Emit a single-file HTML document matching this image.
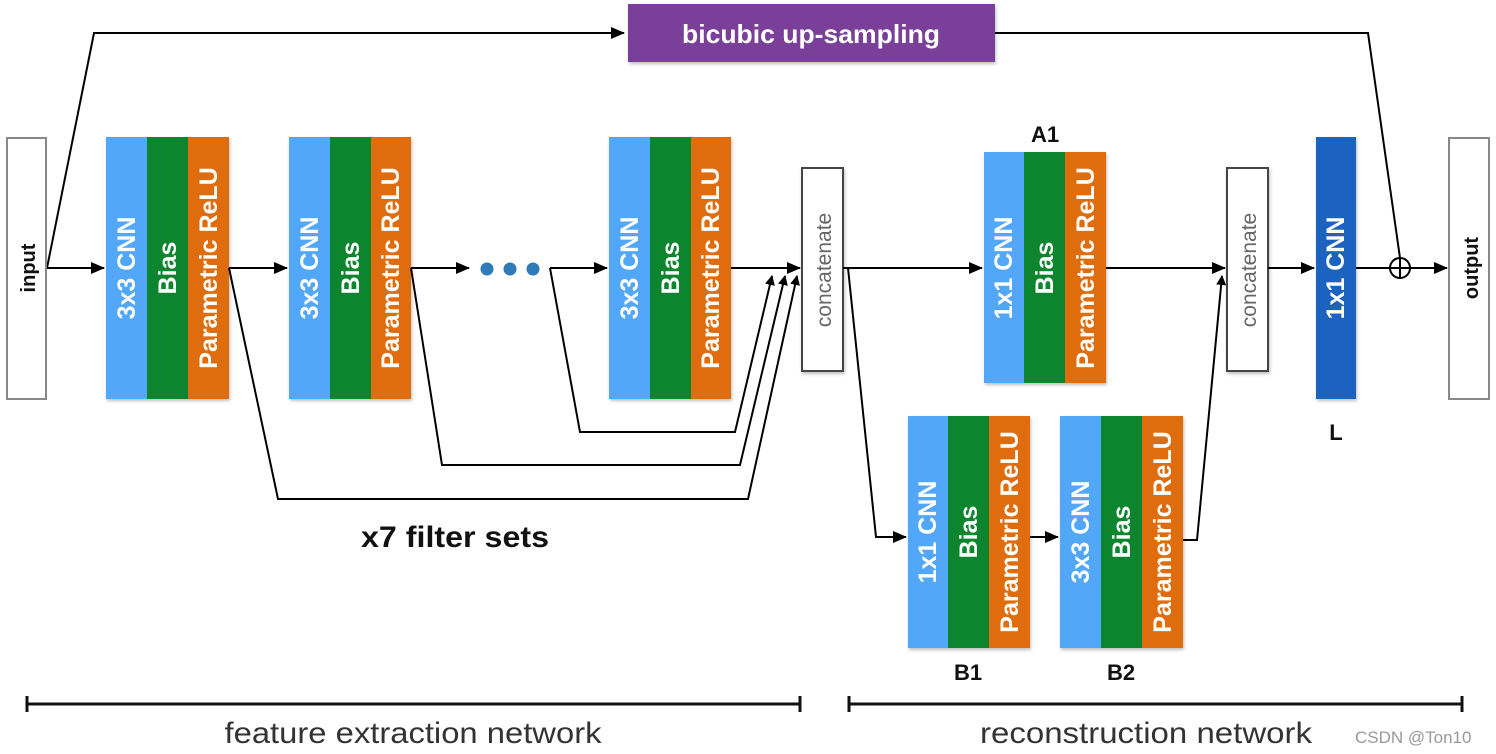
<!DOCTYPE html>
<html><head><meta charset="utf-8"><style>
html,body{margin:0;padding:0;background:#fff;}
svg{display:block;}
.bt{font-family:"Liberation Sans",sans-serif;font-weight:bold;font-size:25px;fill:#fff;}
.ln{stroke:#000;stroke-width:2;fill:none;}
</style></head><body>
<svg width="1496" height="754" viewBox="0 0 1496 754" xmlns="http://www.w3.org/2000/svg">
<defs>
<marker id="ar" markerWidth="10" markerHeight="10" refX="9" refY="5" orient="auto" markerUnits="userSpaceOnUse" viewBox="0 0 10 10">
<path d="M0,0 L10,5 L0,10 z" fill="#000"/></marker>
<marker id="as" markerWidth="14" markerHeight="14" refX="13" refY="7" orient="auto" markerUnits="userSpaceOnUse" viewBox="0 0 14 14">
<path d="M0,1 L14,7 L0,13 z" fill="#000"/></marker>
<filter id="sh" x="-10%" y="-10%" width="130%" height="130%"><feDropShadow dx="1" dy="2" stdDeviation="1.5" flood-color="#000" flood-opacity="0.25"/></filter>
</defs>

<rect x="628" y="4" width="367" height="58" fill="#7a3f99" filter="url(#sh)"/>
<text x="811" y="43" text-anchor="middle" font-family="Liberation Sans,sans-serif" font-weight="bold" font-size="26" fill="#fff" textLength="258" lengthAdjust="spacingAndGlyphs">bicubic up-sampling</text>
<path class="ln" d="M47,268 L94,33 L624,33" marker-end="url(#as)"/>
<path class="ln" d="M995,33 L1368,33 L1400,258"/>

<rect x="7" y="138" width="39" height="261" fill="#fff" stroke="#888" stroke-width="2"/>
<text transform="translate(35,268) rotate(-90)" text-anchor="middle" font-family="Liberation Sans,sans-serif" font-weight="bold" font-size="20" fill="#111">input</text>
<rect x="1449" y="138" width="40" height="261" fill="#fff" stroke="#888" stroke-width="2"/>
<text transform="translate(1478,268) rotate(-90)" text-anchor="middle" font-family="Liberation Sans,sans-serif" font-weight="bold" font-size="20" fill="#111">output</text>

<g filter="url(#sh)">
<rect x="106" y="137" width="41" height="262" fill="#52a7f8"/><rect x="147" y="137" width="41" height="262" fill="#0a842e"/><rect x="188" y="137" width="41" height="262" fill="#e06d10"/>
<rect x="289" y="137" width="41" height="262" fill="#52a7f8"/><rect x="330" y="137" width="41" height="262" fill="#0a842e"/><rect x="371" y="137" width="40" height="262" fill="#e06d10"/>
<rect x="609" y="137" width="41" height="262" fill="#52a7f8"/><rect x="650" y="137" width="41" height="262" fill="#0a842e"/><rect x="691" y="137" width="40" height="262" fill="#e06d10"/>
<rect x="984" y="152" width="40" height="231" fill="#52a7f8"/><rect x="1024" y="152" width="41" height="231" fill="#0a842e"/><rect x="1065" y="152" width="41" height="231" fill="#e06d10"/>
<rect x="908" y="416" width="40" height="232" fill="#52a7f8"/><rect x="948" y="416" width="41" height="232" fill="#0a842e"/><rect x="989" y="416" width="41" height="232" fill="#e06d10"/>
<rect x="1060" y="416" width="41" height="232" fill="#52a7f8"/><rect x="1101" y="416" width="41" height="232" fill="#0a842e"/><rect x="1142" y="416" width="41" height="232" fill="#e06d10"/>
<rect x="1316" y="137" width="40" height="262" fill="#1a64c0"/>
</g>

<text class="bt" transform="translate(135,268) rotate(-90)" text-anchor="middle">3x3 CNN</text>
<text class="bt" transform="translate(176,268) rotate(-90)" text-anchor="middle">Bias</text>
<text class="bt" transform="translate(217,268) rotate(-90)" text-anchor="middle">Parametric ReLU</text>
<text class="bt" transform="translate(318,268) rotate(-90)" text-anchor="middle">3x3 CNN</text>
<text class="bt" transform="translate(359,268) rotate(-90)" text-anchor="middle">Bias</text>
<text class="bt" transform="translate(399,268) rotate(-90)" text-anchor="middle">Parametric ReLU</text>
<text class="bt" transform="translate(638,268) rotate(-90)" text-anchor="middle">3x3 CNN</text>
<text class="bt" transform="translate(679,268) rotate(-90)" text-anchor="middle">Bias</text>
<text class="bt" transform="translate(719,268) rotate(-90)" text-anchor="middle">Parametric ReLU</text>
<text class="bt" transform="translate(1012,268) rotate(-90)" text-anchor="middle">1x1 CNN</text>
<text class="bt" transform="translate(1053,268) rotate(-90)" text-anchor="middle">Bias</text>
<text class="bt" transform="translate(1094,268) rotate(-90)" text-anchor="middle">Parametric ReLU</text>
<text class="bt" transform="translate(936,532) rotate(-90)" text-anchor="middle">1x1 CNN</text>
<text class="bt" transform="translate(977,532) rotate(-90)" text-anchor="middle">Bias</text>
<text class="bt" transform="translate(1018,532) rotate(-90)" text-anchor="middle">Parametric ReLU</text>
<text class="bt" transform="translate(1089,532) rotate(-90)" text-anchor="middle">3x3 CNN</text>
<text class="bt" transform="translate(1130,532) rotate(-90)" text-anchor="middle">Bias</text>
<text class="bt" transform="translate(1171,532) rotate(-90)" text-anchor="middle">Parametric ReLU</text>
<text class="bt" transform="translate(1344,268) rotate(-90)" text-anchor="middle">1x1 CNN</text>

<rect x="802" y="168" width="41" height="203" fill="#fff" stroke="#444" stroke-width="2" filter="url(#sh)"/>
<text transform="translate(831,270) rotate(-90)" text-anchor="middle" font-family="Liberation Sans,sans-serif" font-size="21" fill="#666">concatenate</text>
<rect x="1227" y="168" width="41" height="203" fill="#fff" stroke="#444" stroke-width="2" filter="url(#sh)"/>
<text transform="translate(1256,270) rotate(-90)" text-anchor="middle" font-family="Liberation Sans,sans-serif" font-size="21" fill="#666">concatenate</text>

<g font-family="Liberation Sans,sans-serif" font-weight="bold" font-size="22" fill="#111" text-anchor="middle">
<text x="1045" y="142">A1</text>
<text x="1336" y="440">L</text>
<text x="968" y="680">B1</text>
<text x="1121" y="680">B2</text>
</g>
<text x="455" y="547" text-anchor="middle" font-family="Liberation Sans,sans-serif" font-weight="bold" font-size="30" fill="#111" textLength="188" lengthAdjust="spacingAndGlyphs">x7 filter sets</text>

<circle cx="487" cy="269" r="6.5" fill="#2f7ab8"/>
<circle cx="510" cy="269" r="6.5" fill="#2f7ab8"/>
<circle cx="533" cy="269" r="6.5" fill="#2f7ab8"/>

<path class="ln" d="M47,268 L104,268" marker-end="url(#as)"/>
<path class="ln" d="M229,268 L287,268" marker-end="url(#as)"/>
<path class="ln" d="M411,268 L469,268" marker-end="url(#as)"/>
<path class="ln" d="M550,268 L607,268" marker-end="url(#as)"/>
<path class="ln" d="M731,268 L800,268" marker-end="url(#as)"/>
<path class="ln" d="M229,268 L278,499 L748,499 L797,276" marker-end="url(#ar)"/>
<path class="ln" d="M411,268 L442,465 L740,465 L785,276" marker-end="url(#ar)"/>
<path class="ln" d="M550,268 L580,432 L735,432 L772,276" marker-end="url(#ar)"/>
<path class="ln" d="M843,268 L982,268" marker-end="url(#as)"/>
<path class="ln" d="M848,268 L876,537 L906,537" marker-end="url(#as)"/>
<path class="ln" d="M1030,537 L1058,537" marker-end="url(#as)"/>
<path class="ln" d="M1183,540 L1197,540 L1222,276" marker-end="url(#ar)"/>
<path class="ln" d="M1106,268 L1225,268" marker-end="url(#as)"/>
<path class="ln" d="M1268,268 L1314,268" marker-end="url(#as)"/>
<path class="ln" d="M1356,268 L1390,268"/>
<circle cx="1400" cy="268" r="10" fill="none" stroke="#000" stroke-width="2"/>
<path class="ln" d="M1390,268 L1410,268 M1400,258 L1400,278"/>
<path class="ln" d="M1410,268 L1447,268" marker-end="url(#as)"/>

<path d="M27,704 L800,704 M27,696 L27,712 M800,696 L800,712" stroke="#111" stroke-width="3" fill="none"/>
<path d="M849,704 L1462,704 M849,696 L849,712 M1462,696 L1462,712" stroke="#111" stroke-width="3" fill="none"/>
<text x="413" y="743" text-anchor="middle" font-family="Liberation Sans,sans-serif" font-size="30" fill="#333" textLength="377" lengthAdjust="spacingAndGlyphs">feature extraction network</text>
<text x="1146" y="743" text-anchor="middle" font-family="Liberation Sans,sans-serif" font-size="30" fill="#333" textLength="332" lengthAdjust="spacingAndGlyphs">reconstruction network</text>
<text x="1355" y="743" font-family="Liberation Sans,sans-serif" font-size="17" fill="#999">CSDN @Ton10</text>
</svg>
</body></html>
